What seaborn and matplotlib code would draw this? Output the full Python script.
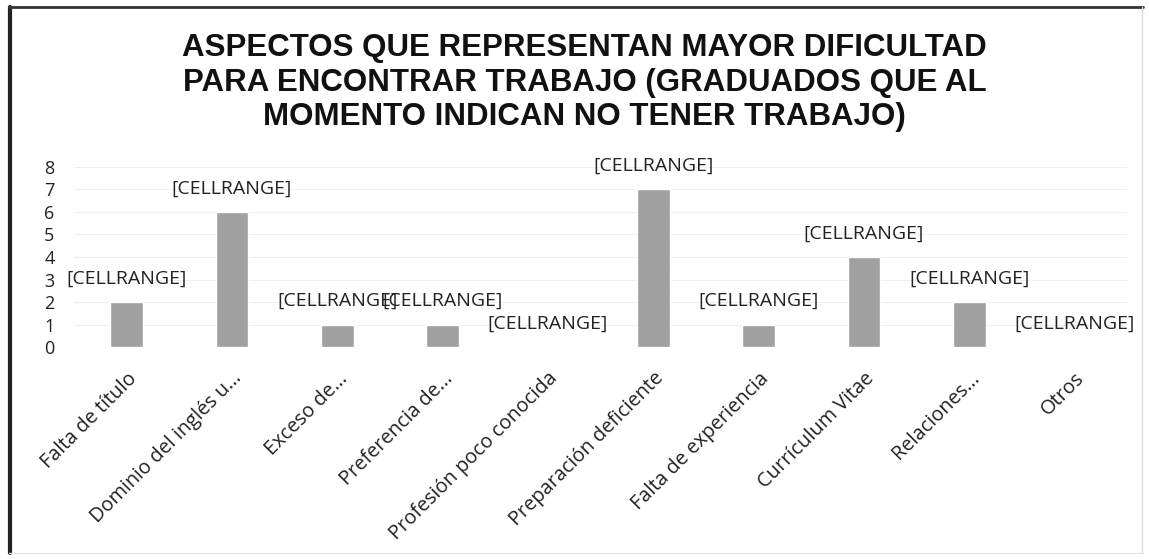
import matplotlib
matplotlib.use("Agg")
import pandas as pd
import seaborn as sns
import matplotlib.pyplot as plt
from matplotlib.lines import Line2D

# datos del gráfico
categorias = [
    "Falta de título",
    "Dominio del inglés u...",
    "Exceso de...",
    "Preferencia de...",
    "Profesión poco conocida",
    "Preparación deficiente",
    "Falta de experiencia",
    "Currículum Vitae",
    "Relaciones...",
    "Otros",
]
valores = [2, 6, 1, 1, 0, 7, 1, 4, 2, 0]
etiquetas = ["[CELLRANGE]"] * len(categorias)
titulo = ("ASPECTOS QUE REPRESENTAN MAYOR DIFICULTAD\n"
          "PARA ENCONTRAR TRABAJO (GRADUADOS QUE AL\n"
          "MOMENTO INDICAN NO TENER TRABAJO)")

df = pd.DataFrame({"aspecto": categorias, "graduados": valores})

sns.set_theme(style="white")
plt.rcParams['font.family'] = ['Open Sans', 'DejaVu Sans']

fig = plt.figure(figsize=(11.49, 5.59), dpi=100)
ax = fig.add_axes([0.0644, 0.3792, 0.9166, 0.3221])

sns.barplot(data=df, x="aspecto", y="graduados", color="#a0a0a0",
            width=0.31, saturation=1, ax=ax)

ax.set_ylim(0, 8)
ax.set_xlim(-0.5, len(categorias) - 0.5)
ax.set_yticks(range(0, 9))
ax.yaxis.grid(True, color="#efefef", linewidth=0.8)
ax.set_axisbelow(True)
for s in ax.spines.values():
    s.set_visible(False)
ax.set_xlabel("")
ax.set_ylabel("")
ax.tick_params(axis="y", labelsize=13, pad=14, length=0, colors="#222222")
ax.tick_params(axis="x", labelsize=14.3, length=0, pad=15.5, colors="#222222")
plt.setp(ax.get_xticklabels(), rotation=45, ha="right", rotation_mode="anchor")

# etiquetas de datos
for i, (v, t) in enumerate(zip(valores, etiquetas)):
    ax.annotate(t, (i, v), xytext=(0, 17), textcoords="offset points",
                ha="center", va="center", fontsize=14, color="#222222")

fig.text(0.509, 0.852, titulo, ha="center", va="center", fontsize=22.5,
         fontweight="bold", family="Liberation Sans", linespacing=1.19,
         color="#111111")

# marco del gráfico
fig.add_artist(Line2D([0.009, 0.009], [0.01, 0.988], color="#222222", lw=3))
fig.add_artist(Line2D([0.008, 0.995], [0.988, 0.988], color="#333333", lw=2))
fig.add_artist(Line2D([0.994, 0.994], [0.01, 0.988], color="#dddddd", lw=1))
fig.add_artist(Line2D([0.008, 0.995], [0.01, 0.01], color="#e5e5e5", lw=1))

fig.savefig("out.png", dpi=100)
